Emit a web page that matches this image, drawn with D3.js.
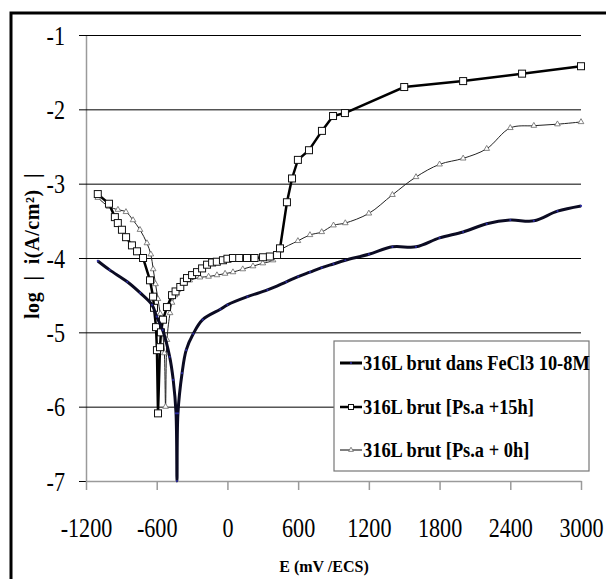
<!DOCTYPE html>
<html>
<head>
<meta charset="utf-8">
<script src="https://cdn.jsdelivr.net/npm/d3@7/dist/d3.min.js"></script>
<style>
  html, body { margin: 0; padding: 0; background: #fff; }
  svg { display: block; font-family: "Liberation Serif", "DejaVu Serif", serif; }
</style>
</head>
<body>
<svg id="chart" width="606" height="579"></svg>
<script>
// Polarisation curves of 316L steel: potential E (mV/ECS) vs log|i| (A/cm²)
const xTicks = [-1200, -600, 0, 600, 1200, 1800, 2400, 3000];
const yTicks = [-1, -2, -3, -4, -5, -6, -7];

const seriesNames = [
  "316L brut dans FeCl3 10-8M",
  "316L brut [Ps.a +15h]",
  "316L brut [Ps.a + 0h]"
];

// 316L brut dans FeCl3 10-8M
const s1E = [-1100, -1000, -850, -740, -640, -600, -550, -490, -460, -436, -428,
  -420, -385, -350, -290, -210, -60, 0, 170, 340, 500, 600, 700, 800, 900, 1000,
  1200, 1400, 1600, 1800, 2000, 2200, 2400, 2600, 2800, 3000];
const s1I = [-4.04, -4.16, -4.32, -4.47, -4.63, -4.79, -4.97, -5.33, -5.64, -6.09, -7.0,
  -6.09, -5.55, -5.24, -5.02, -4.83, -4.69, -4.63, -4.52, -4.43, -4.32, -4.25, -4.19, -4.13, -4.08, -4.03,
  -3.95, -3.85, -3.85, -3.73, -3.65, -3.54, -3.49, -3.50, -3.37, -3.30];

// 316L brut [Ps.a +15h]
const s2E = [-1100, -1005, -955, -930, -895, -860, -810, -767, -716, -657, -631, -623,
  -606, -598, -589, -572, -564, -547, -513, -470, -440, -400, -370, -343, -300, -258, -215, -173, -130, -90,
  -38, 0, 47, 100, 166, 230, 302, 360, 421, 446, 505, 548, 598, 692, 802, 896, 997, 1500, 2000, 2500, 3000];
const s2I = [-3.14, -3.27, -3.45, -3.53, -3.62, -3.72, -3.83, -3.91, -4.0, -4.30, -4.52, -4.67,
  -4.93, -5.24, -6.09, -5.2, -5.0, -4.83, -4.66, -4.5, -4.45, -4.39, -4.32, -4.27, -4.23, -4.19, -4.14, -4.09, -4.06, -4.05,
  -4.03, -4.01, -4.0, -4.0, -4.0, -4.0, -3.99, -3.98, -3.96, -3.87, -3.25, -2.93, -2.68, -2.55, -2.29, -2.09, -2.05, -1.70, -1.62, -1.52, -1.42];

// 316L brut [Ps.a + 0h]
const s3E = [-1100, -1005, -929, -861, -801, -742, -683, -650, -630, -610, -590, -570,
  -550, -535, -525, -513, -487, -470, -445, -420, -377, -320, -233, -160, -89, -20, 47, 130, 217, 300, 387, 446, 598, 700,
  800, 900, 1000, 1200, 1400, 1600, 1800, 2000, 2200, 2400, 2600, 2800, 3000];
const s3I = [-3.19, -3.31, -3.35, -3.38, -3.49, -3.62, -3.80, -3.95, -4.15, -4.35, -4.55, -4.75,
  -5.0, -5.28, -6.0, -5.1, -4.74, -4.6, -4.5, -4.43, -4.34, -4.3, -4.26, -4.25, -4.23, -4.21, -4.19, -4.15, -4.11, -4.07, -4.03, -3.9, -3.77, -3.69,
  -3.65, -3.56, -3.53, -3.40, -3.15, -2.91, -2.74, -2.66, -2.53, -2.25, -2.22, -2.20, -2.17];

const svg = d3.select("#chart");
const x = d3.scaleLinear().domain([-1200, 3000]).range([86, 581]);
const y = d3.scaleLinear().domain([-7, -1]).range([481, 35]);
const sx = 0.82; // condensed figure labels

// outer frame (top and left edges)
svg.append("path")
  .attr("d", "M11,579 V13 H606")
  .attr("fill", "none").attr("stroke", "#000").attr("stroke-width", 3);

// y axis with horizontal gridlines
const gy = svg.append("g")
  .attr("transform", `translate(${x.range()[0]},0)`)
  .call(d3.axisLeft(y).tickValues(yTicks).tickSizeInner(-(x.range()[1] - x.range()[0])).tickSizeOuter(0));
gy.select(".domain").attr("stroke", "#9a9a9a").attr("stroke-width", 1.5);
gy.selectAll(".tick line").attr("x1", -7).attr("stroke", "#000").attr("stroke-width", 1);
gy.selectAll(".tick text")
  .attr("x", -21 / sx).attr("dy", "0.34em")
  .attr("transform", `scale(${sx},1)`)
  .attr("font-size", 27).attr("font-family", "Liberation Serif").attr("fill", "#000")
  .text(d => String(d));

// x axis
const gx = svg.append("g")
  .attr("transform", `translate(0,${y.range()[0]})`)
  .call(d3.axisBottom(x).tickValues(xTicks).tickSizeInner(9).tickSizeOuter(0));
gx.select(".domain").attr("stroke", "#9a9a9a").attr("stroke-width", 1.5);
gx.selectAll(".tick line").attr("stroke", "#9a9a9a").attr("stroke-width", 1.5);
gx.selectAll(".tick text")
  .attr("y", 56).attr("dy", 0)
  .attr("transform", `scale(${sx},1)`)
  .attr("font-size", 27).attr("font-family", "Liberation Serif").attr("fill", "#000")
  .text(d => String(d));

// axis titles
svg.append("text")
  .attr("transform", "translate(39,246) rotate(-90)")
  .attr("text-anchor", "middle")
  .attr("font-size", 20).attr("font-weight", "bold")
  .attr("letter-spacing", 0.6)
  .attr("xml:space", "preserve")
  .style("white-space", "pre")
  .text("log  |  i(A/cm²)  |");
svg.append("text")
  .attr("x", 324).attr("y", 572)
  .attr("text-anchor", "middle")
  .attr("font-size", 16).attr("font-weight", "bold")
  .text("E (mV /ECS)");

const zip = (E, I) => E.map((e, i) => ({e, v: I[i]}));
const d1 = zip(s1E, s1I), d2 = zip(s2E, s2I), d3s = zip(s3E, s3I);

const smooth = d3.line().x(d => x(d.e)).y(d => y(d.v)).curve(d3.curveCatmullRom.alpha(0.5));
const straight = d3.line().x(d => x(d.e)).y(d => y(d.v));

const plot = svg.append("g");

// series 3: thin line, small hollow triangles
plot.append("path").datum(d3s).attr("d", smooth)
  .attr("fill", "none").attr("stroke", "#222").attr("stroke-width", 1);
const tri = d3.symbol().type(d3.symbolTriangle).size(14);
plot.selectAll(".m3").data(d3s).join("path").attr("class", "m3")
  .attr("d", tri).attr("transform", d => `translate(${x(d.e)},${y(d.v)})`)
  .attr("fill", "#fff").attr("stroke", "#666").attr("stroke-width", 0.8);

// series 2: heavier line, hollow squares
plot.append("path").datum(d2).attr("d", straight)
  .attr("fill", "none").attr("stroke", "#000").attr("stroke-width", 2.5);
plot.selectAll(".m2").data(d2).join("rect").attr("class", "m2")
  .attr("x", d => x(d.e) - 3.5).attr("y", d => y(d.v) - 3.5)
  .attr("width", 7).attr("height", 7)
  .attr("fill", "#fff").attr("stroke", "#111").attr("stroke-width", 1);

// series 1: thick dark line with small navy dots
plot.append("path").datum(d1).attr("d", smooth)
  .attr("fill", "none").attr("stroke", "#0b0b22").attr("stroke-width", 3);
plot.selectAll(".m1").data(d1).join("circle").attr("class", "m1")
  .attr("cx", d => x(d.e)).attr("cy", d => y(d.v)).attr("r", 1.1)
  .attr("fill", "#2a2aa0");

// legend
const lg = svg.append("g");
lg.append("rect").attr("x", 334).attr("y", 341).attr("width", 255).attr("height", 130)
  .attr("fill", "#fff").attr("stroke", "#777").attr("stroke-width", 1.2);
const rowsY = [363, 407, 450];
seriesNames.forEach((name, i) => {
  const ly = rowsY[i];
  lg.append("line").attr("x1", 340).attr("x2", 362).attr("y1", ly).attr("y2", ly)
    .attr("stroke", "#000").attr("stroke-width", i === 2 ? 1 : (i === 1 ? 2.5 : 3));
  if (i === 0) {
    lg.append("circle").attr("cx", 351).attr("cy", ly).attr("r", 1.1).attr("fill", "#2a2aa0");
  } else if (i === 1) {
    lg.append("rect").attr("x", 348.5).attr("y", ly - 2.5).attr("width", 5).attr("height", 5)
      .attr("fill", "#fff").attr("stroke", "#111").attr("stroke-width", 1);
  } else {
    lg.append("path").attr("d", d3.symbol().type(d3.symbolTriangle).size(10))
      .attr("transform", `translate(351,${ly})`)
      .attr("fill", "#fff").attr("stroke", "#666").attr("stroke-width", 0.8);
  }
  lg.append("text")
    .attr("transform", `translate(363,${ly + 7}) scale(0.92,1)`)
    .attr("font-size", 20).attr("font-weight", "bold")
    .text(name);
});
</script>
</body>
</html>
